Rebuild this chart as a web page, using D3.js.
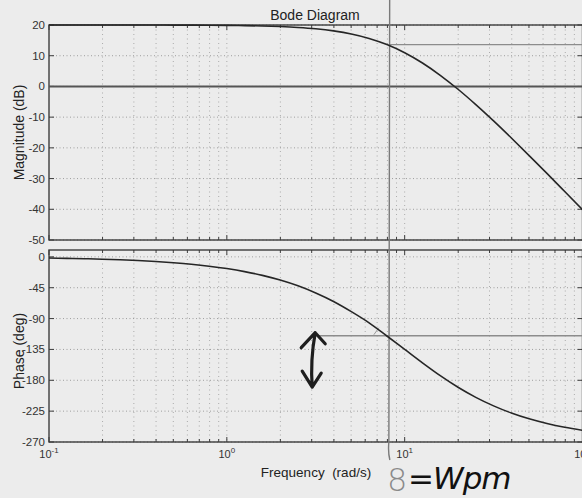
<!DOCTYPE html>
<html><head><meta charset="utf-8">
<script src="https://cdn.jsdelivr.net/npm/d3@7/dist/d3.min.js"></script>
<style>
html,body{margin:0;padding:0;background:#ececec;}
svg{display:block;font-family:"Liberation Sans",Arial,sans-serif;}
</style></head>
<body><svg id="c" width="582" height="498"></svg>
<script>
// ---- data ----
const freqs = [0.1,0.1259,0.1585,0.1995,0.2512,0.3162,0.3981,0.5012,0.631,0.7943,
  1,1.259,1.585,1.995,2.512,3.162,3.981,5.012,6.31,7.943,
  10,12.59,15.85,19.95,25.12,31.62,39.81,50.12,63.1,79.43,100];
const magnitude = [20.0,20.0,20.0,19.99,19.99,19.99,19.98,19.97,19.95,19.92,
  19.87,19.8,19.68,19.49,19.2,18.76,18.08,17.08,15.63,13.63,
  10.97,7.63,3.63,-0.92,-5.92,-11.24,-16.8,-22.51,-28.32,-34.21,-40.13];
const phase = [-1.7,-2.2,-2.7,-3.4,-4.3,-5.4,-6.8,-8.6,-10.8,-13.6,
  -17.1,-21.5,-27.0,-33.9,-42.3,-52.7,-65.1,-79.9,-96.2,-115.4,
  -135.0,-154.6,-173.3,-190.2,-204.9,-217.3,-227.7,-236.2,-243.0,-248.5,-252.9];
const magTicks = [20,10,0,-10,-20,-30,-40,-50];
const phaseTicks = [0,-45,-90,-135,-180,-225,-270];
const decadeTicks = [-1,0,1,2];          // exponents of 10
const title = "Bode Diagram";
const xLabel = "Frequency  (rad/s)";
const magLabel = "Magnitude (dB)";
const phaseLabel = "Phase (deg)";
// hand-drawn annotations
const wpm = 8.15;               // crossover frequency line
const wpmMag = 13.6;            // magnitude at crossover
const pmPhase = -115;           // phase at crossover
const pmStart = 3.25;           // where the phase-line starts
const noteNum = "8";
const noteText = "=Wpm";

// ---- layout ----
const svg = d3.select("#c");
const L = 49, R = 582.5;
const magTop = 25, magBot = 240, phTop = 250, phBot = 442;
const x = d3.scaleLog().domain([0.1,100]).range([L,R]);
const yM = d3.scaleLinear().domain([-50,20]).range([magBot,magTop]);
const yP = d3.scaleLinear().domain([-270,10]).range([phBot,phTop]);

svg.append("rect").attr("width",582).attr("height",498).attr("fill","#ececec");

const minor = [];
for (let e=-1;e<2;e++) for (let m=1;m<10;m++) minor.push(m*Math.pow(10,e));
minor.push(100);

function panel(y, ticks, top, bot){
  const g = svg.append("g");
  // grid
  g.selectAll(".vg").data(minor.slice(1)).join("line")
    .attr("x1",d=>x(d)).attr("x2",d=>x(d)).attr("y1",top).attr("y2",bot)
    .attr("stroke","#9a9a9a").attr("stroke-width",0.8).attr("stroke-dasharray","1,3.5");
  g.selectAll(".hg").data(ticks).join("line")
    .attr("x1",L).attr("x2",R).attr("y1",d=>y(d)).attr("y2",d=>y(d))
    .attr("stroke","#8a8a8a").attr("stroke-width",0.8).attr("stroke-dasharray","1,2.5");
  // frame
  g.append("rect").attr("x",L).attr("y",top).attr("width",R-L).attr("height",bot-top)
    .attr("fill","none").attr("stroke","#3d3d3d").attr("stroke-width",1.4);
  // x ticks (inside, top and bottom)
  const xt = minor.map(d=>({v:d, major: Math.abs(Math.log10(d)-Math.round(Math.log10(d)))<1e-6}));
  g.selectAll(".xtb").data(xt).join("line")
    .attr("x1",d=>x(d.v)).attr("x2",d=>x(d.v)).attr("y1",bot).attr("y2",d=>bot-(d.major?5:3))
    .attr("stroke","#3d3d3d");
  g.selectAll(".xtt").data(xt).join("line")
    .attr("x1",d=>x(d.v)).attr("x2",d=>x(d.v)).attr("y1",top).attr("y2",d=>top+(d.major?5:3))
    .attr("stroke","#3d3d3d");
  // y ticks
  g.selectAll(".yt").data(ticks).join("line")
    .attr("x1",L).attr("x2",L+5).attr("y1",d=>y(d)).attr("y2",d=>y(d)).attr("stroke","#3d3d3d");
  g.selectAll(".ytr").data(ticks).join("line")
    .attr("x1",R).attr("x2",R-5).attr("y1",d=>y(d)).attr("y2",d=>y(d)).attr("stroke","#3d3d3d");
  g.selectAll(".yl").data(ticks).join("text")
    .attr("x",L-4).attr("y",d=>y(d)).attr("dy","0.35em").attr("text-anchor","end")
    .attr("font-size",11.5).attr("fill","#333").text(d=>d);
}
panel(yM, magTicks, magTop, magBot);
panel(yP, phaseTicks, phTop, phBot);

// x tick labels
const xl = svg.append("g").selectAll("text").data(decadeTicks).join("text")
  .attr("x",d=>x(Math.pow(10,d))).attr("y",458).attr("text-anchor","middle")
  .attr("font-size",11).attr("fill","#333");
xl.append("tspan").text("10");
xl.append("tspan").attr("dy",-5).attr("font-size",8).text(d=>d);

// emphasised 0 dB line (pencil)
svg.append("line").attr("x1",L).attr("x2",R).attr("y1",yM(0)).attr("y2",yM(0))
  .attr("stroke","#555").attr("stroke-width",2);

// annotation lines (pencil)
svg.append("line").attr("x1",x(wpm)).attr("x2",R).attr("y1",yM(wpmMag)).attr("y2",yM(wpmMag))
  .attr("stroke","#8c8c8c").attr("stroke-width",1.4);
svg.append("line").attr("x1",x(pmStart)).attr("x2",R).attr("y1",yP(pmPhase)).attr("y2",yP(pmPhase))
  .attr("stroke","#8c8c8c").attr("stroke-width",1.4);
svg.append("path")
  .attr("d",`M${x(wpm)+0.8},0 L${x(wpm)},${phBot} Q${x(wpm)-1},${phBot+10} ${x(wpm)+1},${phBot+18}`)
  .attr("fill","none").attr("stroke","#7a7a7a").attr("stroke-width",1.4);
// small tick mark near phase crossing
svg.append("line").attr("x1",x(wpm)-15).attr("x2",x(wpm)-10).attr("y1",yP(pmPhase)-1).attr("y2",yP(pmPhase)-8)
  .attr("stroke","#9a9a9a").attr("stroke-width",1);

// curves
const line = (yy, vals) => d3.line().curve(d3.curveMonotoneX)
  .x((d,i)=>x(freqs[i])).y((d,i)=>yy(vals[i]));
svg.append("path").datum(magnitude).attr("d",line(yM,magnitude)(magnitude))
  .attr("fill","none").attr("stroke","#262626").attr("stroke-width",1.6);
svg.append("path").datum(phase).attr("d",line(yP,phase)(phase))
  .attr("fill","none").attr("stroke","#262626").attr("stroke-width",1.6);

// hand-drawn double arrow
const ax = x(3.1);
const aTop = yP(pmPhase)-3, aBot = yP(-190);
svg.append("path")
  .attr("d",`M${ax+1},${aTop} Q${ax-4},${(aTop+aBot)/2} ${ax-2},${aBot}
             M${ax-13},${aTop+15} L${ax+1},${aTop} L${ax+11},${aTop+11}
             M${ax-12},${aBot-16} L${ax-2},${aBot} L${ax+7},${aBot-14}`)
  .attr("fill","none").attr("stroke","#1e1e1e").attr("stroke-width",3.2)
  .attr("stroke-linecap","round").attr("stroke-linejoin","round");

// texts
svg.append("text").attr("x",315).attr("y",20).attr("text-anchor","middle")
  .attr("font-size",14).attr("fill","#222").text(title);
svg.append("text").attr("x",316).attr("y",477).attr("text-anchor","middle")
  .attr("font-size",13.5).attr("fill","#222").attr("xml:space","preserve").text(xLabel);
svg.append("text").attr("transform",`translate(24,${(magTop+magBot)/2}) rotate(-90)`)
  .attr("text-anchor","middle").attr("font-size",14).attr("fill","#222").text(magLabel);
svg.append("text").attr("transform",`translate(24,${(phTop+phBot)/2+5}) rotate(-90)`)
  .attr("text-anchor","middle").attr("font-size",14).attr("fill","#222").text(phaseLabel);

// handwritten note
svg.append("text").attr("x",387).attr("y",491).attr("font-size",32)
  .attr("font-family","'DejaVu Sans',sans-serif").attr("font-weight",300)
  .attr("fill","#8a8a8a").text(noteNum);
svg.append("text").attr("x",408).attr("y",489).attr("font-size",31)
  .attr("font-family","'DejaVu Sans',sans-serif").attr("font-style","italic")
  .attr("fill","#111").attr("letter-spacing","-1").text(noteText);
</script></body></html>
